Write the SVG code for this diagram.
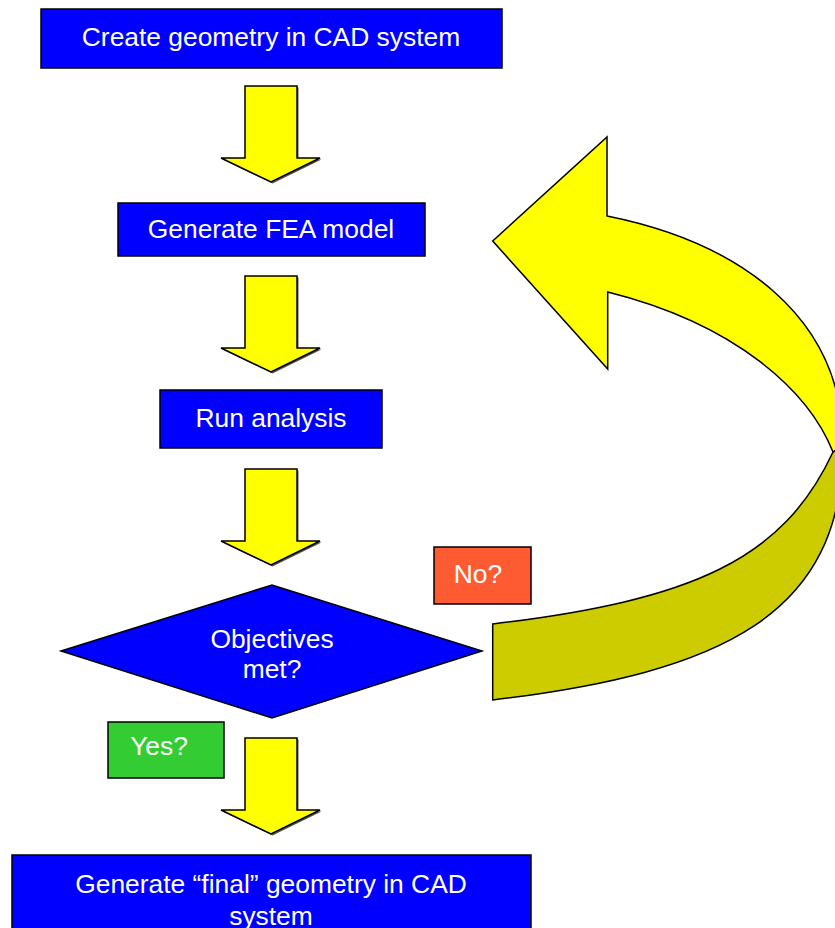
<svg xmlns="http://www.w3.org/2000/svg" width="835" height="928" viewBox="0 0 835 928">
<style>
.box{fill:#0000FF;stroke:#000;stroke-width:1.5}
.t{font-family:"Liberation Sans",Arial,sans-serif;font-size:26.4px;fill:#fff;text-anchor:middle}
.dn{fill:#FFFF00;stroke:#000;stroke-width:1.5;stroke-linejoin:miter}
.sh{fill:#555}
</style>
<defs>
<path id="darrow" d="M245,0 L297,0 L297,72 L320,72 L271,96 L221,72 L245,72 Z"/>
</defs>
<rect width="835" height="928" fill="#fff"/>
<g id="connectors">
<g id="arrow1" transform="translate(0,86)"><use href="#darrow" class="sh" transform="translate(1.5,1.5)"/><use href="#darrow" class="dn"/></g>
<g id="arrow2" transform="translate(0,276)"><use href="#darrow" class="sh" transform="translate(1.5,1.5)"/><use href="#darrow" class="dn"/></g>
<g id="arrow3" transform="translate(0,469)"><use href="#darrow" class="sh" transform="translate(1.5,1.5)"/><use href="#darrow" class="dn"/></g>
<g id="arrow4" transform="translate(0,738)"><use href="#darrow" class="sh" transform="translate(1.5,1.5)"/><use href="#darrow" class="dn"/></g>
<g id="loop">
<path d="M833,452 C782.6,560 692.7,600 492.7,624 L492.7,700 C722.7,672.4 843,615 843,445 Z" fill="#CCCC00" stroke="#000" stroke-width="1.5"/>
<path d="M492.7,241 L607,137 L607,216 C737,242 843,315 843,445 L833,452 C809,392 737.7,324.5 607.7,292 L607.7,369 Z" fill="#FFFF00" stroke="#000" stroke-width="1.5" stroke-linejoin="miter"/>
</g>
</g>
<g id="n1"><rect class="box" x="41" y="9" width="461" height="59"/><text class="t" x="271" y="46">Create geometry in CAD system</text></g>
<g id="n2"><rect class="box" x="118" y="203" width="307" height="53"/><text class="t" x="271" y="238">Generate FEA model</text></g>
<g id="n3"><rect class="box" x="160" y="390" width="222" height="58"/><text class="t" x="271" y="427">Run analysis</text></g>
<g id="n4"><path class="box" d="M61,651 L272,585 L482,651 L272,718 Z"/><text class="t" x="272" y="648">Objectives</text><text class="t" x="272" y="678">met?</text></g>
<g id="no"><rect x="434" y="547" width="97" height="57" fill="#FF5B33" stroke="#000" stroke-width="1.5"/><text class="t" x="478" y="583">No?</text></g>
<g id="yes"><rect x="108" y="722" width="116" height="56" fill="#33CC33" stroke="#000" stroke-width="1.5"/><text class="t" x="159" y="755">Yes?</text></g>
<g id="n5"><rect class="box" x="12" y="855" width="519" height="80"/><text class="t" x="271" y="893">Generate “final” geometry in CAD</text><text class="t" x="271" y="925">system</text></g>
</svg>
